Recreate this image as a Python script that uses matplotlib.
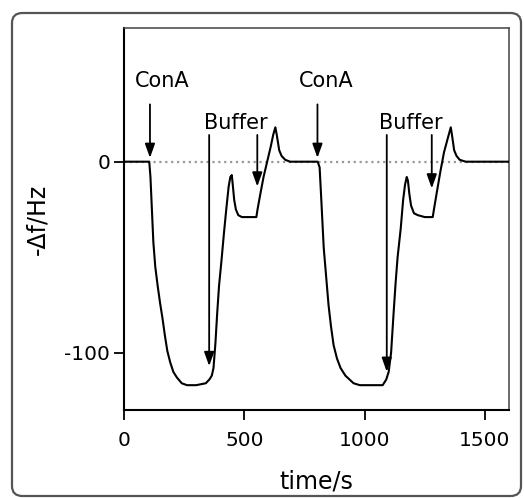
import matplotlib
matplotlib.use('Agg')
import matplotlib.pyplot as plt
from matplotlib.patches import FancyBboxPatch

plt.rcParams['axes.unicode_minus'] = False

# frequency trace (time in s, -df in Hz)
time_s = [0, 105, 110, 116, 122, 130, 140, 150, 160, 170, 180, 192, 205, 220, 240,
          262, 300, 340, 355, 365, 372, 380, 387, 395, 405, 415, 425, 435, 442, 448,
          452, 458, 465, 475, 490, 520, 550, 555, 565, 580, 595, 610, 620, 629, 635,
          645, 655, 670, 690,
          805, 813, 820, 830, 840, 850, 860, 871, 885, 900, 920, 954, 980, 1075, 1090,
          1100, 1110, 1120, 1129, 1137, 1150, 1160, 1168, 1175, 1180, 1186, 1193, 1205,
          1221, 1250, 1283, 1288, 1300, 1315, 1330, 1345, 1358, 1363, 1372, 1382, 1395,
          1420, 1600]
neg_df = [0, 0, -8, -25, -42, -55, -65, -74, -82, -91, -99, -105, -110, -113, -116,
          -117, -117, -116, -114, -112, -108, -95, -80, -65, -52, -38, -25, -13, -8, -7,
          -12, -20, -25, -28, -29, -29, -29, -25, -18, -8, 0, 8, 14, 18, 14,
          6, 3, 1, 0,
          0, -3, -20, -45, -60, -75, -86, -96, -103, -108, -112, -116, -117, -117, -114,
          -110, -100, -80, -63, -50, -35, -20, -12, -8, -10, -17, -23, -27,
          -28, -29, -29, -25, -16, -5, 5, 12, 18, 14, 6, 3, 1,
          0, 0]

# injection markers
conA_text_x = [158, 842]
conA_arrow_x = [108, 804]
buffer_text_x = [463, 1192]
buffer_long_x = [354, 1092]
buffer_long_tip = [-107, -110]
buffer_short_x = [554, 1279]
buffer_short_tip = [-13, -14]

x_ticks = [0, 500, 1000, 1500]
y_ticks = [0, -100]

fig = plt.figure(figsize=(5.24, 4.98), dpi=100)
ax = fig.add_axes([0.2366, 0.1767, 0.7348, 0.7671])

# rounded frame around the whole panel
frame = FancyBboxPatch((12/524, 1 - 496/498), (521-12)/524, (496-13)/498,
                       boxstyle='round,pad=0,rounding_size=0.02',
                       transform=fig.transFigure, fill=False,
                       edgecolor='#555555', lw=1.6)
fig.patches.append(frame)

ax.axhline(0, color='#999999', ls=':', lw=1.6, zorder=1)
ax.plot(time_s, neg_df, color='black', lw=1.5, zorder=3)

arrow_kw = dict(arrowstyle='-|>,head_width=0.15,head_length=0.42',
                color='black', lw=1.3, mutation_scale=20, shrinkA=0, shrinkB=0)

for tx, axx in zip(conA_text_x, conA_arrow_x):
    ax.text(tx, 42, 'ConA', ha='center', va='center', fontsize=15)
    ax.annotate('', xy=(axx, 2), xytext=(axx, 30), arrowprops=arrow_kw)

for tx, lx, lt, sx, st in zip(buffer_text_x, buffer_long_x, buffer_long_tip,
                              buffer_short_x, buffer_short_tip):
    ax.text(tx, 20, 'Buffer', ha='center', va='center', fontsize=15)
    ax.annotate('', xy=(lx, lt), xytext=(lx, 14), arrowprops=arrow_kw)
    ax.annotate('', xy=(sx, st), xytext=(sx, 14), arrowprops=arrow_kw)

ax.set_xlim(0, 1600)
ax.set_ylim(-130, 70)
ax.set_xticks(x_ticks)
ax.set_yticks(y_ticks)
ax.tick_params(direction='out', length=7, width=1.3, labelsize=14.5)
ax.tick_params(axis='x', pad=8)
ax.tick_params(axis='y', pad=3)

for side in ['left', 'bottom']:
    ax.spines[side].set_linewidth(1.5)
for side in ['top', 'right']:
    ax.spines[side].set_linewidth(1.1)
    ax.spines[side].set_color('#444444')

ax.set_xlabel('time/s', fontsize=17, labelpad=14)
ax.set_ylabel('-Δf/Hz', fontsize=17, labelpad=11)

fig.savefig('out.png', dpi=100)
